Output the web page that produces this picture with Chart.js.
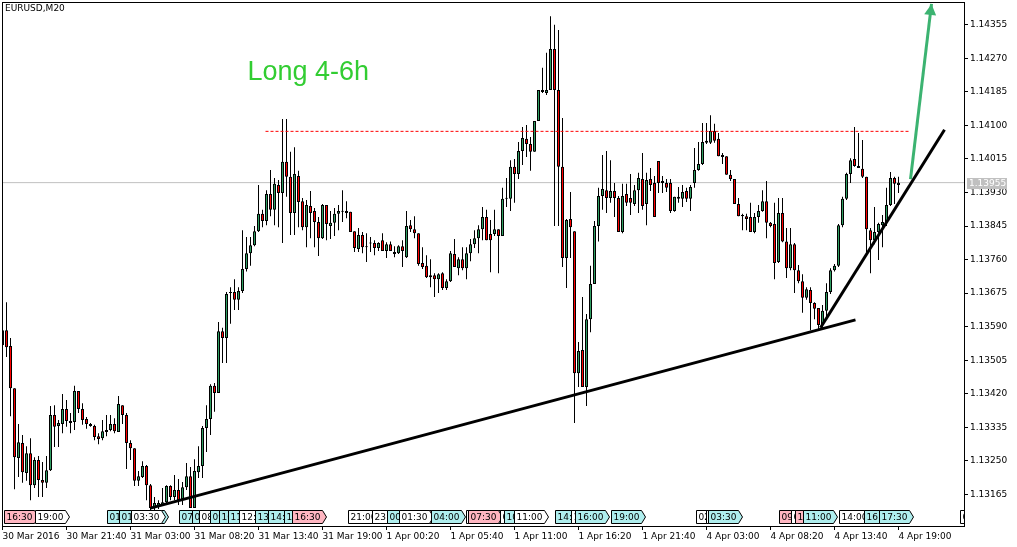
<!DOCTYPE html>
<html>
<head>
<meta charset="utf-8">
<script src="https://cdn.jsdelivr.net/npm/chart.js@4.4.1/dist/chart.umd.min.js"></script>
<style>
  html, body { margin: 0; padding: 0; background: #fff; overflow: hidden; }
</style>
</head>
<body>
<canvas id="chart" width="1017" height="547"></canvas>
<script>
// EURUSD M20 bars, 30 Mar 16:20 -> 4 Apr 19:00
const open = [
  1.13543,1.13581,1.13541,1.13434,1.13257,1.13295,1.13219,1.13269,1.13188,1.13252,1.13201,1.13194,1.13226,1.13366,1.13338,
  1.13343,1.13381,1.13351,1.13348,1.13427,1.13381,1.13356,1.13343,1.13338,1.13312,1.13307,1.13328,1.13328,1.13343,1.13323,
  1.13391,1.13366,1.13295,1.13282,1.13199,1.13209,1.13237,1.13188,1.13130,1.13133,1.13138,1.13145,1.13186,1.13158,1.13176,
  1.13153,1.13183,1.13211,1.13130,1.13221,1.13237,1.13333,1.13356,1.13440,1.13422,1.13578,1.13561,1.13675,1.13678,1.13658,
  1.13680,1.13736,1.13776,1.13796,1.13832,1.13876,1.13858,1.13926,1.13886,1.13949,1.13929,1.14008,1.13970,1.13878,1.13972,
  1.13908,1.13842,1.13896,1.13883,1.13855,1.13814,1.13898,1.13845,1.13853,1.13876,1.13881,1.13883,1.13881,1.13832,1.13787,
  1.13822,1.13794,1.13802,1.13802,1.13789,1.13809,1.13782,1.13799,1.13779,1.13776,1.13794,1.13766,1.13847,1.13837,1.13827,
  1.13751,1.13744,1.13720,1.13720,1.13710,1.13725,1.13688,1.13705,1.13774,1.13738,1.13761,1.13738,1.13776,1.13799,1.13814,
  1.13837,1.13868,1.13825,1.13825,1.13837,1.13820,1.13914,1.13914,1.13995,1.13977,1.14035,1.14066,1.14053,1.14033,1.14111,
  1.14185,1.14182,1.14190,1.14294,1.14190,1.13995,1.13764,1.13863,1.13832,1.13472,1.13531,1.13437,1.13609,1.13698,1.13845,
  1.13921,1.13936,1.13916,1.13934,1.13916,1.13830,1.13926,1.13916,1.13901,1.13936,1.13964,1.13901,1.13964,1.13954,1.14010,
  1.13954,1.13954,1.13954,1.13883,1.13914,1.13914,1.13934,1.13914,1.13954,1.13987,1.14002,1.14056,1.14056,1.14086,1.14066,
  1.14025,1.14022,1.13975,1.13964,1.13901,1.13873,1.13870,1.13868,1.13830,1.13868,1.13883,1.13908,1.13853,1.13850,1.13754,
  1.13878,1.13806,1.13738,1.13799,1.13733,1.13705,1.13663,1.13683,1.13650,1.13637,1.13594,1.13630,1.13678,1.13733,1.13744,
  1.13847,1.13914,1.13977,1.14015,1.13997,1.13990,1.13970,1.13834,1.13809,1.13830,1.13847,1.13855,1.13898,1.13967,1.13949
];
const high = [
  1.13587,1.13652,1.13561,1.13434,1.13343,1.13315,1.13287,1.13307,1.13259,1.13262,1.13247,1.13262,1.13389,1.13391,1.13353,
  1.13419,1.13404,1.13371,1.13440,1.13427,1.13396,1.13361,1.13346,1.13341,1.13320,1.13353,1.13366,1.13366,1.13358,1.13414,
  1.13391,1.13371,1.13302,1.13282,1.13224,1.13249,1.13239,1.13191,1.13158,1.13150,1.13181,1.13188,1.13188,1.13214,1.13204,
  1.13196,1.13244,1.13234,1.13254,1.13287,1.13338,1.13391,1.13444,1.13447,1.13602,1.13587,1.13678,1.13690,1.13710,1.13690,
  1.13834,1.13817,1.13817,1.13845,1.13949,1.13886,1.13936,1.13987,1.13967,1.13962,1.14116,1.14116,1.14033,1.14045,1.13985,
  1.13916,1.13911,1.13934,1.13891,1.13868,1.13901,1.13898,1.13883,1.13891,1.13898,1.13936,1.13908,1.13881,1.13832,1.13840,
  1.13830,1.13827,1.13817,1.13809,1.13804,1.13827,1.13804,1.13806,1.13794,1.13796,1.13809,1.13883,1.13860,1.13870,1.13827,
  1.13791,1.13771,1.13761,1.13725,1.13725,1.13728,1.13710,1.13782,1.13812,1.13766,1.13791,1.13791,1.13812,1.13834,1.13847,
  1.13893,1.13886,1.13860,1.13886,1.13837,1.13942,1.13967,1.14012,1.14015,1.14058,1.14096,1.14101,1.14071,1.14111,1.14190,
  1.14246,1.14284,1.14377,1.14355,1.14342,1.14119,1.13863,1.13931,1.13832,1.13551,1.13665,1.13622,1.13744,1.13858,1.13942,
  1.14025,1.14035,1.14012,1.13954,1.13921,1.13952,1.13952,1.13977,1.13949,1.13980,1.14030,1.13980,1.13992,1.13972,1.14010,
  1.13972,1.13964,1.13964,1.13919,1.13944,1.13949,1.13942,1.13949,1.14043,1.14058,1.14106,1.14106,1.14126,1.14104,1.14081,
  1.14030,1.14022,1.13987,1.13964,1.13916,1.13876,1.13876,1.13904,1.13878,1.13898,1.13936,1.13959,1.13855,1.13904,1.13916,
  1.13916,1.13840,1.13840,1.13802,1.13746,1.13723,1.13690,1.13690,1.13652,1.13637,1.13645,1.13700,1.13738,1.13749,1.13850,
  1.13919,1.13980,1.14017,1.14096,1.14081,1.14063,1.13970,1.13840,1.13893,1.13853,1.13873,1.13942,1.13982,1.13970,1.13970
];
const low = [
  1.13531,1.13513,1.13363,1.13178,1.13209,1.13194,1.13199,1.13150,1.13181,1.13158,1.13158,1.13181,1.13224,1.13285,1.13285,
  1.13320,1.13336,1.13320,1.13328,1.13371,1.13341,1.13331,1.13336,1.13302,1.13292,1.13302,1.13312,1.13325,1.13320,1.13323,
  1.13343,1.13229,1.13252,1.13186,1.13186,1.13206,1.13150,1.13125,1.13125,1.13128,1.13135,1.13143,1.13150,1.13150,1.13138,
  1.13138,1.13176,1.13130,1.13130,1.13206,1.13206,1.13272,1.13315,1.13374,1.13422,1.13498,1.13498,1.13597,1.13632,1.13632,
  1.13675,1.13730,1.13744,1.13794,1.13830,1.13842,1.13847,1.13870,1.13847,1.13842,1.13802,1.13919,1.13822,1.13822,1.13842,
  1.13834,1.13791,1.13814,1.13791,1.13769,1.13812,1.13809,1.13812,1.13820,1.13834,1.13855,1.13865,1.13830,1.13779,1.13779,
  1.13776,1.13754,1.13779,1.13771,1.13782,1.13782,1.13764,1.13782,1.13766,1.13774,1.13741,1.13764,1.13830,1.13814,1.13744,
  1.13736,1.13713,1.13690,1.13665,1.13675,1.13683,1.13683,1.13703,1.13741,1.13720,1.13733,1.13710,1.13756,1.13789,1.13776,
  1.13809,1.13809,1.13728,1.13820,1.13725,1.13820,1.13893,1.13883,1.13904,1.13964,1.14000,1.14020,1.13985,1.14033,1.14111,
  1.14182,1.14177,1.14190,1.13845,1.13845,1.13741,1.13688,1.13764,1.13346,1.13437,1.13437,1.13389,1.13576,1.13698,1.13806,
  1.13886,1.13878,1.13904,1.13868,1.13830,1.13827,1.13896,1.13873,1.13896,1.13878,1.13886,1.13847,1.13934,1.13868,1.13929,
  1.13929,1.13931,1.13878,1.13881,1.13904,1.13893,1.13906,1.13883,1.13942,1.13985,1.14000,1.14053,1.14053,1.14056,1.14022,
  1.14002,1.13975,1.13959,1.13901,1.13870,1.13834,1.13834,1.13830,1.13827,1.13853,1.13881,1.13814,1.13842,1.13710,1.13751,
  1.13804,1.13713,1.13733,1.13675,1.13700,1.13625,1.13658,1.13581,1.13609,1.13581,1.13587,1.13607,1.13673,1.13730,1.13741,
  1.13842,1.13911,1.13954,1.13995,1.13992,1.13967,1.13779,1.13725,1.13799,1.13759,1.13791,1.13845,1.13896,1.13901,1.13929
];
const close = [
  1.13581,1.13538,1.13434,1.13259,1.13297,1.13221,1.13269,1.13188,1.13252,1.13201,1.13194,1.13226,1.13366,1.13336,1.13346,
  1.13381,1.13351,1.13346,1.13427,1.13381,1.13353,1.13343,1.13338,1.13310,1.13305,1.13325,1.13323,1.13343,1.13325,1.13394,
  1.13366,1.13295,1.13282,1.13199,1.13211,1.13237,1.13188,1.13130,1.13143,1.13143,1.13145,1.13186,1.13158,1.13176,1.13150,
  1.13183,1.13211,1.13130,1.13224,1.13237,1.13333,1.13356,1.13440,1.13422,1.13578,1.13561,1.13673,1.13677,1.13658,1.13680,
  1.13736,1.13776,1.13796,1.13832,1.13876,1.13858,1.13926,1.13886,1.13952,1.13929,1.14008,1.13970,1.13878,1.13977,1.13906,
  1.13842,1.13898,1.13878,1.13855,1.13814,1.13898,1.13850,1.13853,1.13876,1.13883,1.13882,1.13878,1.13830,1.13789,1.13822,
  1.13791,1.13791,1.13801,1.13789,1.13802,1.13782,1.13799,1.13782,1.13774,1.13794,1.13782,1.13845,1.13837,1.13827,1.13749,
  1.13741,1.13715,1.13715,1.13710,1.13723,1.13688,1.13705,1.13776,1.13741,1.13761,1.13738,1.13776,1.13799,1.13814,1.13837,
  1.13868,1.13809,1.13809,1.13837,1.13820,1.13914,1.13915,1.13995,1.13977,1.14035,1.14068,1.14053,1.14033,1.14111,1.14190,
  1.14190,1.14190,1.14294,1.14190,1.13995,1.13764,1.13860,1.13842,1.13472,1.13528,1.13437,1.13609,1.13698,1.13845,1.13921,
  1.13939,1.13916,1.13934,1.13916,1.13830,1.13921,1.13904,1.13904,1.13936,1.13967,1.13896,1.13962,1.13949,1.13868,1.13954,
  1.13959,1.13942,1.13883,1.13919,1.13919,1.13931,1.13914,1.13944,1.13987,1.14002,1.14058,1.14061,1.14086,1.14061,1.14022,
  1.14020,1.13975,1.13964,1.13901,1.13870,1.13870,1.13863,1.13830,1.13868,1.13883,1.13908,1.13853,1.13845,1.13751,1.13878,
  1.13806,1.13738,1.13799,1.13733,1.13705,1.13663,1.13685,1.13650,1.13635,1.13594,1.13630,1.13678,1.13733,1.13744,1.13847,
  1.13914,1.13977,1.14012,1.13997,1.13992,1.13970,1.13837,1.13809,1.13830,1.13850,1.13855,1.13898,1.13967,1.13952,1.13955
];

// time axis: one label every 16 bars
const tickIdx = [0, 16, 32, 48, 64, 80, 96, 112, 128, 144, 160, 176, 192, 208, 224];
const tickLabels = ["30 Mar 2016", "30 Mar 21:40", "31 Mar 03:00", "31 Mar 08:20", "31 Mar 13:40",
  "31 Mar 19:00", "1 Apr 00:20", "1 Apr 05:40", "1 Apr 11:00", "1 Apr 16:20", "1 Apr 21:40",
  "4 Apr 03:00", "4 Apr 08:20", "4 Apr 13:40", "4 Apr 19:00"];
const priceTicks = [1.13165, 1.13250, 1.13335, 1.13420, 1.13505, 1.13590, 1.13675, 1.13760,
  1.13845, 1.13930, 1.14015, 1.14100, 1.14185, 1.14270, 1.14355];

// drawn objects: [bar, price] pairs
const supportLine = [[37, 1.13130], [213.25, 1.13607]];
const riseLine = [[204.5, 1.13587], [235.5, 1.14089]];
const targetArrow = [[227, 1.13964], [232.25, 1.14408]];
const resistance = [[65.75, 1.14085], [227, 1.14085]];
const note = { x: 61.25, y: 1.14215, text: "Long 4-6h" };

// event tags along the bottom
const tagIdx = [0.25, 8, 26, 29, 32.75, 32, 44, 47.25, 49, 51.75, 54, 56.25, 59, 63.25, 66.25, 70.25, 72.25,
  86.25, 92.25, 96, 100.75, 99, 107, 115.75, 117, 116.25, 124.5, 125.25, 127.75, 138, 142, 143, 152,
  173.25, 175.75, 176.25, 194, 197, 198, 200, 209, 215.25, 219, 239.25];
const tagText = ["16:30", "19:00", "01:00", "01:30", "03:40", "03:30", "07:00", "07:40", "08:00", "09:00",
  "10:00", "11:00", "12:30", "13:00", "14:00", "15:00", "16:30", "21:00", "23:00", "00:00", "02:00",
  "01:30", "04:00", "06:00", "07:00", "07:30", "09:00", "10:00", "11:00", "14:30", "15:00", "16:00",
  "19:00", "02:00", "03:00", "03:30", "09:00", "09:30", "10:00", "11:00", "14:00", "16:00", "17:30", "0:00"];
const tagKind = ["p", "w", "c", "c", "c", "w", "c", "c", "w", "c", "c", "c", "w", "c", "c", "c", "p",
  "w", "w", "c", "p", "w", "c", "w", "c", "p", "w", "c", "w", "c", "w", "c", "c",
  "w", "w", "c", "p", "w", "p", "c", "w", "c", "c", "w"];
const tagFill = { p: "#ffb6c1", c: "#afeeee", w: "#ffffff" };

const FONT = '"DejaVu Sans", Verdana, sans-serif';
const NOTE_FONT = '"Liberation Sans", Arial, sans-serif';
const bull = "#2e9e62";
const bear = "#ff0000";

const bars = open.map((_, i) => i);
const pts = arr => arr.map(p => ({ x: p[0], y: p[1] }));
const lastPrice = close[close.length - 1];

/* =========================
   EXTRA DRAWING (frame, tags, labels)
========================= */
const mt4Extras = {
  id: "mt4Extras",
  beforeDatasetsDraw(chart) {
    const { ctx, scales } = chart;
    ctx.save();
    ctx.font = "9px " + FONT;
    ctx.fillStyle = "#000";
    ctx.textBaseline = "top";
    ctx.fillText("EURUSD,M20", 5, 4);
    ctx.font = "27px " + NOTE_FONT;
    ctx.fillStyle = "#32cd32";
    ctx.textBaseline = "alphabetic";
    ctx.fillText(note.text, scales.x.getPixelForValue(note.x), scales.y.getPixelForValue(note.y));
    ctx.restore();
  },
  afterDatasetsDraw(chart) {
    const { ctx, chartArea: a, scales } = chart;

    // arrow head on the green line
    const m = chart.getDatasetMeta(2).data;
    const x0 = m[0].x, y0 = m[0].y, x1 = m[1].x, y1 = m[1].y;
    const len = Math.hypot(x1 - x0, y1 - y0);
    const ux = (x1 - x0) / len, uy = (y1 - y0) / len;
    const bx = x1 - ux * 11, by = y1 - uy * 11;
    ctx.save();
    ctx.fillStyle = "#3cb371";
    ctx.beginPath();
    ctx.moveTo(x1, y1);
    ctx.lineTo(bx - uy * 6, by + ux * 6);
    ctx.lineTo(bx + uy * 6, by - ux * 6);
    ctx.closePath();
    ctx.fill();
    ctx.restore();

    // tags
    ctx.save();
    ctx.beginPath();
    ctx.rect(a.left, a.top, a.right - a.left, a.bottom - a.top);
    ctx.clip();
    ctx.font = "9px " + FONT;
    ctx.textBaseline = "middle";
    ctx.lineWidth = 1;
    tagIdx.forEach((v, k) => {
      const tx = Math.round(scales.x.getPixelForValue(v)) + 0.5;
      const w = Math.ceil(ctx.measureText(tagText[k]).width) + 4;
      const ty = a.bottom - 15.5, h = 13;
      ctx.beginPath();
      ctx.moveTo(tx, ty);
      ctx.lineTo(tx + w, ty);
      ctx.lineTo(tx + w + 4, ty + h / 2);
      ctx.lineTo(tx + w, ty + h);
      ctx.lineTo(tx, ty + h);
      ctx.closePath();
      ctx.fillStyle = tagFill[tagKind[k]];
      ctx.fill();
      ctx.strokeStyle = "#000";
      ctx.stroke();
      ctx.fillStyle = "#000";
      ctx.fillText(tagText[k], tx + 2, ty + h / 2 + 0.5);
    });
    ctx.restore();
  },
  afterDraw(chart) {
    const { ctx, chartArea: a, scales } = chart;
    ctx.save();
    ctx.strokeStyle = "#000";
    ctx.lineWidth = 1;
    ctx.strokeRect(a.left + 0.5, a.top + 0.5, a.right - a.left, a.bottom - a.top);

    // current price label
    const py = Math.round(scales.y.getPixelForValue(lastPrice));
    ctx.fillStyle = "#c0c0c0";
    ctx.fillRect(a.right + 3, py - 5, 40, 11);
    ctx.fillStyle = "#fff";
    ctx.font = "9px " + FONT;
    ctx.textBaseline = "middle";
    ctx.fillText(lastPrice.toFixed(5), a.right + 5, py + 0.5);
    ctx.restore();
  }
};

/* =========================
   CHART
========================= */
new Chart(document.getElementById("chart"), {
  type: "bar",
  data: {
    datasets: [
      {
        type: "line", label: "support", data: pts(supportLine),
        borderColor: "#000", borderWidth: 3, pointRadius: 0, order: 0
      },
      {
        type: "line", label: "rise", data: pts(riseLine),
        borderColor: "#000", borderWidth: 3, pointRadius: 0, order: 0
      },
      {
        type: "line", label: "target", data: pts(targetArrow),
        borderColor: "#3cb371", borderWidth: 3, pointRadius: 0, order: 0
      },
      {
        type: "line", label: "resistance", data: pts(resistance),
        borderColor: "#ff0000", borderWidth: 1, borderDash: [3, 2], pointRadius: 0, order: 0
      },
      {
        label: "bodies",
        data: bars.map(i => ({ x: i, y: [open[i], close[i]] })),
        backgroundColor: bars.map(i => close[i] >= open[i] ? bull : bear),
        borderColor: "#000", borderWidth: 1, borderSkipped: false,
        barThickness: 3, minBarLength: 1, inflateAmount: 0, grouped: false, order: 1
      },
      {
        label: "wicks",
        data: bars.map(i => ({ x: i, y: [low[i], high[i]] })),
        backgroundColor: "#000", borderWidth: 0,
        barThickness: 1, inflateAmount: 0, grouped: false, order: 2
      },
      {
        type: "line", label: "bid", data: [{ x: -0.125, y: lastPrice }, { x: 240.375, y: lastPrice }],
        borderColor: "#c0c0c0", borderWidth: 1, pointRadius: 0, order: 3
      }
    ]
  },
  options: {
    responsive: false,
    animation: false,
    devicePixelRatio: 1,
    layout: { padding: { left: 2, top: 2, right: 0, bottom: 0 } },
    plugins: { legend: { display: false }, tooltip: { enabled: false } },
    scales: {
      x: {
        type: "linear", position: "bottom", min: -0.125, max: 240.375, bounds: "data", offset: false,
        afterBuildTicks: s => { s.ticks = tickIdx.map(v => ({ value: v })); },
        afterFit: s => { s.height = 21; s.paddingLeft = 0; s.paddingRight = 0; },
        grid: { drawOnChartArea: false, drawTicks: true, tickLength: 4, color: "#000", offset: false },
        border: { display: false },
        ticks: {
          autoSkip: false, maxRotation: 0, align: "start", padding: 1, color: "#000",
          font: { family: FONT, size: 9 },
          callback: (v, i) => tickLabels[i]
        }
      },
      y: {
        type: "linear", position: "right", min: 1.130846, max: 1.144129, bounds: "data",
        afterBuildTicks: s => { s.ticks = priceTicks.map(v => ({ value: v })); },
        afterFit: s => { s.width = 53; s.paddingTop = 0; s.paddingBottom = 0; },
        grid: { drawOnChartArea: false, drawTicks: true, tickLength: 4, color: "#000" },
        border: { display: false },
        ticks: {
          padding: 2, color: "#000", font: { family: FONT, size: 9 },
          callback: v => v.toFixed(5)
        }
      }
    }
  },
  plugins: [mt4Extras]
});
</script>
</body>
</html>
